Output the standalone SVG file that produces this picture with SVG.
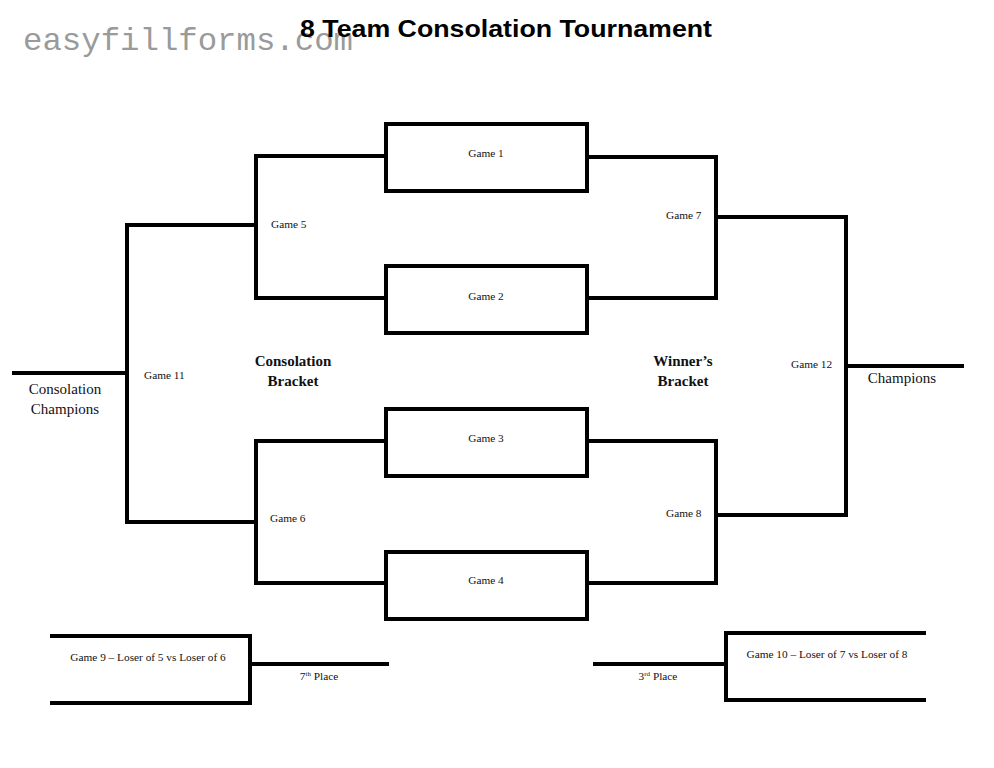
<svg xmlns="http://www.w3.org/2000/svg" width="994" height="768" viewBox="0 0 994 768">
<style>
.ln{fill:none;stroke:#000;stroke-width:4;stroke-linejoin:miter;stroke-linecap:butt}
.bx{fill:#fff;stroke:#000;stroke-width:4}
.g{font-family:"Liberation Serif","Times New Roman",serif;font-size:11.3px;fill:#111}
.gm{text-anchor:middle}
.big{font-family:"Liberation Serif","Times New Roman",serif;font-size:15px;fill:#111;text-anchor:middle}
.bb{font-family:"Liberation Serif","Times New Roman",serif;font-size:15px;font-weight:bold;fill:#111;text-anchor:middle}
</style>
<rect width="994" height="768" fill="#fff"/>
<text x="23" y="50" font-family="Liberation Mono,Courier New,monospace" font-size="32" fill="#9a9a9a" textLength="330" lengthAdjust="spacingAndGlyphs">easyfillforms.com</text>
<text id="title" x="506" y="37" font-family="Liberation Sans,Arial,sans-serif" font-size="24" font-weight="bold" fill="#000" text-anchor="middle" textLength="412" lengthAdjust="spacingAndGlyphs">8 Team Consolation Tournament</text>

<g id="connectors">
<polyline class="ln" points="386,156 256,156 256,298 386,298"/>
<polyline class="ln" points="587,157 716,157 716,298 587,298"/>
<polyline class="ln" points="386,441 256,441 256,583 386,583"/>
<polyline class="ln" points="587,441 716,441 716,583 587,583"/>
<polyline class="ln" points="256,225 127,225 127,522 256,522"/>
<line class="ln" x1="127" y1="373" x2="12" y2="373"/>
<polyline class="ln" points="716,217 846,217 846,515 716,515"/>
<line class="ln" x1="846" y1="366" x2="964" y2="366"/>
<line class="ln" x1="250" y1="664" x2="389" y2="664"/>
<line class="ln" x1="726" y1="664" x2="593" y2="664"/>
</g>

<g id="game1"><rect class="bx" x="386" y="124" width="201" height="67"/><text class="g gm" x="486" y="157">Game 1</text></g>
<g id="game2"><rect class="bx" x="386" y="266" width="201" height="67"/><text class="g gm" x="486" y="300">Game 2</text></g>
<g id="game3"><rect class="bx" x="386" y="409" width="201" height="67"/><text class="g gm" x="486" y="442">Game 3</text></g>
<g id="game4"><rect class="bx" x="386" y="552" width="201" height="67"/><text class="g gm" x="486" y="584">Game 4</text></g>

<g id="game5"><text class="g" x="271" y="228">Game 5</text></g>
<g id="game6"><text class="g" x="270" y="522">Game 6</text></g>
<g id="game7"><text class="g" x="666" y="219">Game 7</text></g>
<g id="game8"><text class="g" x="666" y="517">Game 8</text></g>
<g id="game11"><text class="g" x="144" y="379">Game 11</text></g>
<g id="game12"><text class="g" x="791" y="368">Game 12</text></g>

<g id="game9">
<polyline class="ln" points="50,636 250,636 250,703 50,703"/>
<text class="g gm" x="148" y="661">Game 9 – Loser of 5 vs Loser of 6</text>
</g>
<g id="game10">
<polyline class="ln" points="926,633 726,633 726,700 926,700"/>
<text class="g gm" x="827" y="658">Game 10 – Loser of 7 vs Loser of 8</text>
</g>

<g id="place7"><text class="g gm" x="319" y="680">7<tspan font-size="7" dy="-4">th</tspan><tspan dy="4"> Place</tspan></text></g>
<g id="place3"><text class="g gm" x="658" y="680">3<tspan font-size="7" dy="-4">rd</tspan><tspan dy="4"> Place</tspan></text></g>

<g id="consolation-champions"><text class="big" x="65" y="394">Consolation</text><text class="big" x="65" y="414">Champions</text></g>
<g id="champions"><text class="big" x="902" y="383">Champions</text></g>
<g id="consolation-bracket"><text class="bb" x="293" y="366">Consolation</text><text class="bb" x="293" y="386">Bracket</text></g>
<g id="winners-bracket"><text class="bb" x="683" y="366">Winner’s</text><text class="bb" x="683" y="386">Bracket</text></g>
</svg>
